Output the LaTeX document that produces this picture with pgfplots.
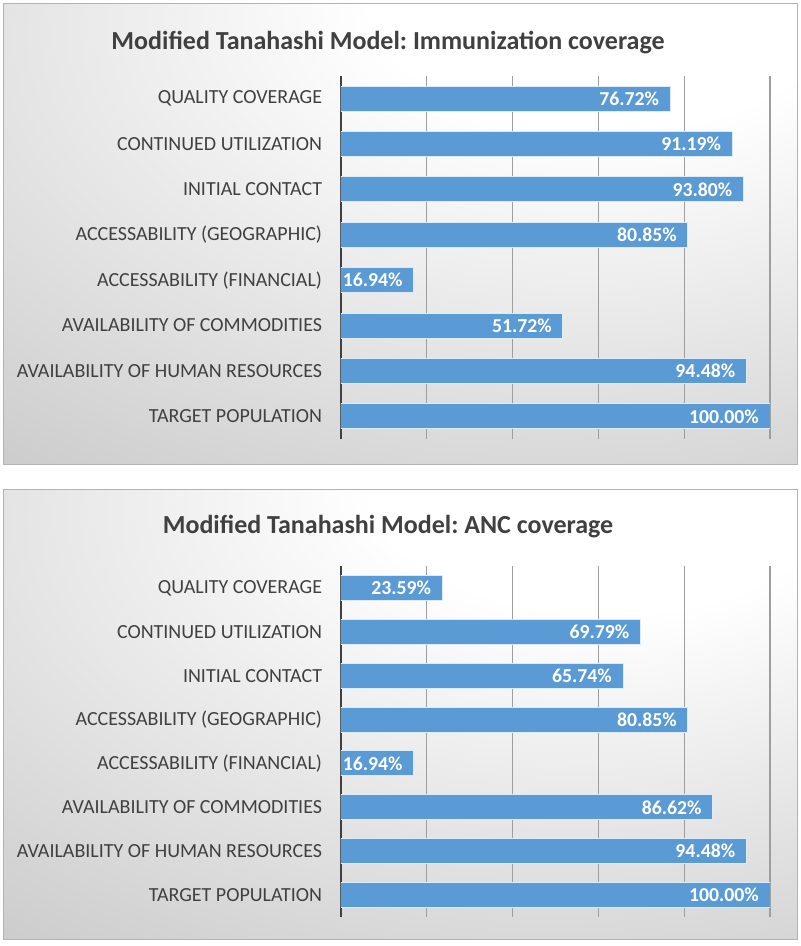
\documentclass[border=0pt]{standalone}
\usepackage{pgfplots}
\pgfplotsset{compat=1.18}
\usepackage{fontspec}
\setmainfont{Carlito}
\frenchspacing
\definecolor{barblue}{HTML}{5B9BD5}
\definecolor{baredge}{HTML}{DDEBF7}
\definecolor{txtgray}{HTML}{404040}
\pgfdeclareradialshading{panelbg}{\pgfpoint{15bp}{30bp}}{color(0bp)=(white); color(15bp)=(white); color(65bp)=(black!26); color(120bp)=(black!30)}

\pgfplotstableread{
y val
0 100.00
1 94.48
2 51.72
3 16.94
4 80.85
5 93.80
6 91.19
7 76.72
}\immun
\pgfplotstableread{
y val
0 100.00
1 94.48
2 86.62
3 16.94
4 80.85
5 65.74
6 69.79
7 23.59
}\anc

\pgfplotsset{
  tanastyle/.style={
    scale only axis,
    anchor=south west,
    width=321.75pt,
    xbar, bar width=18.75pt, bar shift=0pt,
    xmin=0, xmax=100, ymin=-0.5, ymax=7.5,
    ytick={0,...,7},
    yticklabels={TARGET POPULATION, AVAILABILITY OF HUMAN RESOURCES, AVAILABILITY OF COMMODITIES, ACCESSABILITY (FINANCIAL), ACCESSABILITY (GEOGRAPHIC), INITIAL CONTACT, CONTINUED UTILIZATION, QUALITY COVERAGE},
    xtick={20,40,60,80,100}, xticklabels={},
    xmajorgrids,
    grid style={black!38, line width=0.9pt},
    extra x ticks={0}, extra x tick labels={},
    extra x tick style={grid style={txtgray, line width=1.8pt}},
    axis line style={draw=none},
    major tick length=0pt,
    yticklabel style={font=\fontsize{15}{18}\selectfont, text=txtgray, inner sep=0pt, xshift=-14pt},
    /pgf/number format/assume math mode=true,
    point meta=x,
    nodes near coords={\pgfmathprintnumber[fixed, fixed zerofill, precision=2]{\pgfplotspointmeta}\%},
    every node near coord/.append style={anchor=east, inner sep=0pt, xshift=-8pt, text=white, font=\bfseries\fontsize{14.8}{17}\selectfont},
  }
}

\begin{document}
\begin{tikzpicture}
\path[use as bounding box] (0,0) rectangle (600pt,-709.5pt);
\fill[white] (0,0) rectangle (600pt,-709.5pt);
% panels
\shade[shading=panelbg] (2.25pt,-2.25pt) rectangle (597.75pt,-348pt);
\draw[black!30, line width=0.75pt] (2.25pt,-2.25pt) rectangle (597.75pt,-348pt);
\shade[shading=panelbg] (2.25pt,-366.75pt) rectangle (597.75pt,-704.25pt);
\draw[black!30, line width=0.75pt] (2.25pt,-366.75pt) rectangle (597.75pt,-704.25pt);
% titles
\node[anchor=base, text=txtgray, font=\bfseries\fontsize{19.5}{23}\selectfont] at (291pt,-36.75pt) {Modified Tanahashi Model: Immunization coverage};
\node[anchor=base, text=txtgray, font=\bfseries\fontsize{19.5}{23}\selectfont] at (291pt,-399.75pt) {Modified Tanahashi Model: ANC coverage};

\begin{axis}[tanastyle, at={(255.75pt,-329.25pt)}, height=272.25pt]
\addplot[fill=barblue, draw=baredge, line width=0.75pt] table[x=val, y=y] {\immun};
\end{axis}

\begin{axis}[tanastyle, at={(255.75pt,-687.75pt)}, height=263.25pt]
\addplot[fill=barblue, draw=baredge, line width=0.75pt] table[x=val, y=y] {\anc};
\end{axis}
\end{tikzpicture}
\end{document}
